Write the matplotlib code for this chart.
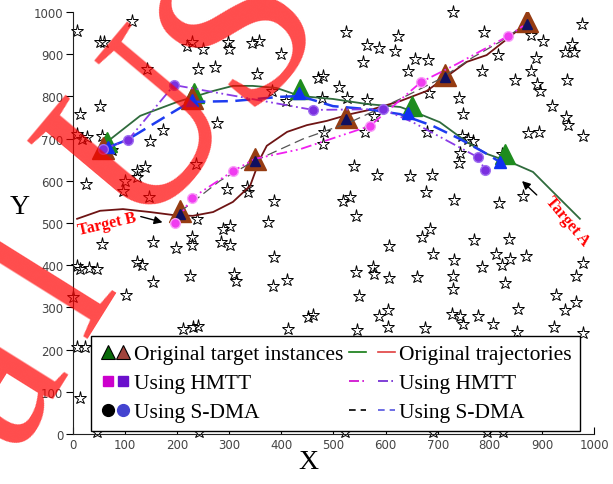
"""Multi-target tracking figure: two target trajectories over a field of clutter.

Hollow stars are clutter, big triangles are the original target instances,
dash-dot lines/circles are HMTT estimates and dashed lines/small triangles
are the S-DMA estimates.
"""

import matplotlib

matplotlib.use("Agg")
import matplotlib.pyplot as plt
from matplotlib.legend_handler import HandlerTuple
from matplotlib.lines import Line2D

# clutter points
star_x = [8, 52, 59, 113, 219, 228, 249, 297, 299, 343, 357, 399, 240, 272, 142, 353,
          13, 52, 382, 409, 276, 173, 148, 56, 8, 17, 27, 75, 25, 123, 138, 123, 100,
          96, 146, 236, 296, 334, 336, 386, 238, 374, 288, 301, 470, 56, 154, 198, 228,
          228, 284, 301, 8, 13, 31, 46, 123, 132, 154, 225, 309, 313, 386, 384, 411, 0,
          102, 211, 230, 240, 413, 8, 23, 13, 451, 242, 46,
          729, 524, 624, 564, 587, 618, 557, 656, 681, 643, 789, 879, 902, 816, 888, 977,
          958, 944, 961, 785, 848, 879, 890, 896, 948, 919, 946, 950, 979, 873, 894, 741,
          748, 683, 480, 510, 526, 564, 478, 578, 482, 480, 560, 679, 746, 758, 768, 743,
          741, 539, 583, 647, 689, 677, 518, 532, 543, 731, 817, 864, 685, 670, 770, 837,
          606, 823, 691, 731, 785, 812, 823, 839, 869, 543, 576, 578, 606, 660, 729, 729,
          829, 979, 965, 927, 549, 461, 587, 604, 727, 743, 748, 777, 806, 854, 944, 965,
          923, 545, 604, 675, 522, 691, 794, 825, 852, 979]
star_y = [955, 929, 929, 979, 920, 929, 912, 929, 912, 927, 931, 901, 865, 870, 865, 853,
          758, 777, 813, 789, 737, 720, 694, 706, 711, 699, 704, 673, 593, 623, 633, 609,
          600, 576, 562, 640, 581, 585, 574, 552, 510, 502, 486, 493, 844, 450, 455, 441,
          467, 448, 455, 448, 398, 391, 393, 391, 408, 401, 360, 374, 379, 363, 419, 351,
          365, 325, 329, 249, 254, 256, 249, 206, 206, 85, 277, 5, 5,
          1000, 953, 943, 922, 915, 908, 882, 889, 886, 860, 953, 946, 931, 898, 891, 972,
          924, 905, 905, 860, 839, 860, 830, 813, 839, 777, 751, 732, 706, 713, 716, 796,
          758, 808, 848, 822, 796, 792, 796, 754, 716, 687, 716, 716, 706, 699, 694, 666,
          642, 635, 614, 611, 614, 574, 552, 562, 517, 555, 547, 564, 486, 467, 460, 462,
          446, 664, 427, 412, 396, 427, 401, 415, 422, 384, 396, 379, 370, 372, 374, 344,
          358, 405, 374, 329, 327, 282, 280, 294, 284, 280, 261, 280, 261, 296, 294, 313,
          254, 246, 254, 251, 5, 5, 5, 5, 242, 239]

# original trajectories
traj_a_x = [52, 65, 129, 200, 269, 307, 345, 391, 436, 499, 564, 628, 666, 704, 756,
            794, 844, 883, 921, 973]
traj_a_y = [675, 692, 754, 787, 813, 825, 825, 820, 801, 794, 782, 775, 758, 739, 692,
            664, 642, 621, 574, 510]
traj_b_x = [8, 52, 96, 148, 192, 230, 269, 307, 340, 359, 372, 411, 449, 487, 532, 576,
            628, 679, 718, 756, 794, 833, 864]
traj_b_y = [510, 529, 533, 526, 519, 517, 526, 550, 588, 652, 683, 716, 732, 742, 758,
            770, 789, 813, 848, 882, 898, 936, 967]

# original target instances
inst_a_x = [65, 232, 436, 651, 829]
inst_a_y = [692, 808, 818, 777, 664]
inst_b_x = [58, 228, 205, 349, 524, 714, 871]
inst_b_y = [678, 796, 528, 652, 751, 851, 979]

# HMTT estimates
hmtt_a_x = [58, 106, 194, 461, 595, 652, 777, 791]
hmtt_a_y = [675, 697, 827, 768, 770, 739, 656, 626]
hmtt_a_pts = [0, 1, 2, 3, 4, 6, 7]
hmtt_b_x = [196, 228, 307, 349, 436, 570, 668, 737, 835, 864]
hmtt_b_y = [500, 559, 623, 652, 675, 730, 834, 877, 943, 967]
hmtt_b_pts = [0, 1, 2, 5, 6, 8]

# S-DMA estimates
sdma_a_x = [75, 104, 180, 225, 307, 397, 436, 499, 564, 628, 691, 743, 794, 819]
sdma_a_y = [683, 697, 754, 787, 789, 799, 801, 777, 770, 758, 730, 699, 664, 645]
sdma_a_pts_x = [68, 228, 434, 643, 819]
sdma_a_pts_y = [680, 792, 808, 760, 645]
sdma_b_x = [205, 282, 345, 441, 532, 628, 704, 768, 819, 864]
sdma_b_y = [526, 600, 645, 699, 739, 794, 841, 893, 929, 967]
sdma_b_pts_x = [205, 349, 524, 714, 871]
sdma_b_pts_y = [522, 646, 746, 845, 972]

# watermark letters, baseline anchors (figure fraction) and angles
wm_chars = ["a", "l", "U", "S"]
wm_x = [0.065, 0.163, 0.312, 0.465]
wm_y = [0.159, 0.357, 0.641, 0.872]
wm_rot = [58, 58, 50, 50]

DASH_DOT_DOT = (0, (6, 2, 1, 2, 1, 2))


class ShiftedTuple(HandlerTuple):
    """HandlerTuple whose handles reach `extra` points left of the handle box."""

    def __init__(self, extra=0.0, **kw):
        super().__init__(**kw)
        self.extra = extra

    def create_artists(self, legend, orig_handle, xdescent, ydescent, width, height,
                       fontsize, trans):
        return super().create_artists(legend, orig_handle, xdescent + self.extra, ydescent,
                                      width + self.extra, height, fontsize, trans)


def main():
    plt.rcParams["font.family"] = ["DejaVu Sans"]
    fig = plt.figure(figsize=(6.13, 4.85), dpi=100)
    ax = fig.add_axes([0.119, 0.1031, 0.850, 0.870])

    ax.plot(star_x, star_y, ls="none", marker="*", ms=9.5, mfc="none", mec="black",
            mew=0.7, clip_on=False, zorder=1)

    ax.plot(traj_a_x, traj_a_y, color="#2F6B3C", lw=1.3, zorder=3)
    ax.plot(traj_b_x, traj_b_y, color="#6E1414", lw=1.3, zorder=3)

    ax.plot(inst_a_x, inst_a_y, ls="none", marker="^", ms=15, color="#1E8C1E", zorder=4)
    ax.plot(inst_b_x, inst_b_y, ls="none", marker="^", ms=16, color="#963C12", zorder=4)

    ax.plot(sdma_a_x, sdma_a_y, color="#1E3CF0", lw=1.8, dashes=(6, 3), zorder=5)
    ax.plot(sdma_b_x, sdma_b_y, color="#555555", lw=0.9, dashes=(8, 4), zorder=5)
    ax.plot(sdma_a_pts_x, sdma_a_pts_y, ls="none", marker="^", ms=9, color="#1030F0", zorder=6)
    ax.plot(sdma_b_pts_x, sdma_b_pts_y, ls="none", marker="^", ms=7, color="#101060", zorder=6)

    ax.plot(hmtt_a_x, hmtt_a_y, color="#8A3CE6", lw=1.3, ls=DASH_DOT_DOT, zorder=5)
    ax.plot(hmtt_b_x, hmtt_b_y, color="#F020F0", lw=1.3, ls=DASH_DOT_DOT, zorder=5)
    ax.plot([hmtt_a_x[i] for i in hmtt_a_pts], [hmtt_a_y[i] for i in hmtt_a_pts],
            ls="none", marker="o", ms=7, color="#7B2FE0", mec="#A070F0", zorder=7)
    ax.plot([hmtt_b_x[i] for i in hmtt_b_pts], [hmtt_b_y[i] for i in hmtt_b_pts],
            ls="none", marker="o", ms=7, color="#F03CF0", mec="#F8A0F8", zorder=7)

    # target annotations
    tfont = dict(family="Liberation Serif", weight="bold", size=11.5, color="red")
    ax.text(65, 498, "Target B", rotation=13, ha="center", va="center", **tfont, zorder=8)
    ax.annotate("", xy=(177, 500), xytext=(125, 517),
                arrowprops=dict(arrowstyle="-|>", color="black", lw=1, mutation_scale=12))
    ax.text(948, 505, "Target A", rotation=-50, ha="center", va="center", **tfont, zorder=8)
    ax.annotate("", xy=(858, 604), xytext=(894, 562),
                arrowprops=dict(arrowstyle="-|>", color="black", lw=1, mutation_scale=12))

    ax.set_xlim(0, 1000)
    ax.set_ylim(0, 1000)
    ax.set_xticks(range(0, 1001, 100))
    ax.set_yticks(range(0, 1001, 100))
    for side in ("top", "right"):
        ax.spines[side].set_visible(False)
    for side in ("left", "bottom"):
        ax.spines[side].set_color("#222222")
    ax.tick_params(axis="x", direction="in", length=5, labelsize=8.5, labelcolor="#444444", pad=3)
    ax.tick_params(axis="y", direction="out", length=5, labelsize=8.5, labelcolor="#444444", pad=2)

    lfont = dict(family="Liberation Serif", size=20)
    ax.set_xlabel("X", **lfont)
    ax.set_ylabel("Y", rotation=0, **lfont)
    ax.xaxis.set_label_coords(0.451, -0.064)
    ax.yaxis.set_label_coords(-0.102, 0.538)
    ax.xaxis.label.set_va("center")
    ax.yaxis.label.set_va("center")
    ax.yaxis.label.set_ha("center")

    def mk(marker, color, ms=10):
        return Line2D([], [], ls="none", marker=marker, ms=ms, mfc=color, mec="black", mew=0.8)

    def ln(color, ls, lw=1.2):
        return Line2D([], [], color=color, ls=ls, lw=lw)

    marker_pairs = [
        (mk("^", "#0A6A0A"), mk("^", "#A0443C")),
        (Line2D([], [], ls="none", marker="s", ms=7, color="#CC00CC"),
         Line2D([], [], ls="none", marker="s", ms=7, color="#6A10CC")),
        (Line2D([], [], ls="none", marker="o", ms=8.5, color="black"),
         Line2D([], [], ls="none", marker="o", ms=8.5, color="#4444D0")),
    ]
    line_pairs = [
        (ln("#127A12", "-"), ln("#E04040", "-")),
        (ln("#CC00CC", DASH_DOT_DOT), ln("#6A20D0", DASH_DOT_DOT)),
        (ln("black", (0, (4, 3))), ln("#5555E0", (0, (4, 3)))),
    ]
    labels = ["Original target instances", "Using HMTT", "Using S-DMA",
              "Original trajectories", "Using HMTT", "Using S-DMA"]
    hmap = {h: HandlerTuple(ndivide=None, pad=0.0) for h in marker_pairs}
    hmap.update({h: ShiftedTuple(extra=11, ndivide=None, pad=0.6) for h in line_pairs})
    leg = ax.legend(marker_pairs + line_pairs, labels, ncol=2, loc="lower left",
                    bbox_to_anchor=(0.035, 0.007), borderaxespad=0, handler_map=hmap,
                    prop=dict(family="Liberation Serif", size=15.5), handlelength=1.45,
                    handletextpad=0.15, columnspacing=0.95, labelspacing=0.42,
                    borderpad=0.4, fancybox=False, framealpha=1, edgecolor="black")
    leg.get_frame().set_linewidth(1.0)
    leg.set_zorder(9)

    # red watermark over the figure, one letter at a time
    for ch, x, y, rot in zip(wm_chars, wm_x, wm_y, wm_rot):
        fig.text(x, y, ch, rotation=rot, rotation_mode="anchor", ha="center", va="baseline",
                 family="Liberation Serif", size=165, color="red", alpha=0.7, zorder=20)

    fig.savefig("out.png", dpi=100)
    plt.close(fig)


if __name__ == "__main__":
    main()
